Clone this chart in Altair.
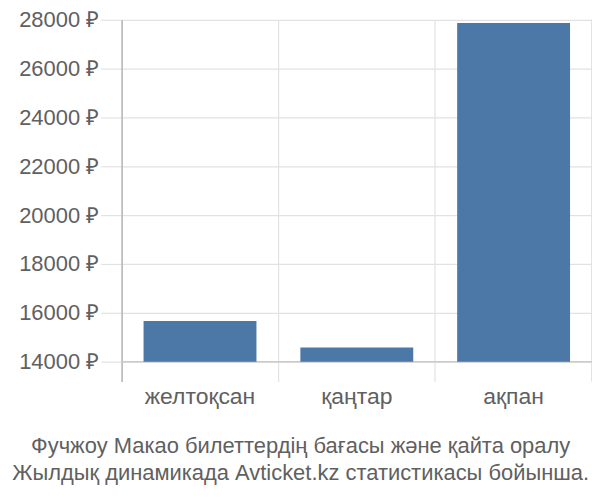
import altair as alt
import pandas as pd

categories = ["желтоқсан", "қаңтар", "ақпан"]
prices = [15660, 14575, 27870]
y_ticks = [14000, 16000, 18000, 20000, 22000, 24000, 26000, 28000]
title_lines = [
    "Фучжоу Макао билеттердің бағасы және қайта оралу",
    "Жылдық динамикада Avticket.kz статистикасы бойынша.",
]

df = pd.DataFrame({"month": categories, "price": prices})

FONT = "Liberation Sans"
TXT = "#606060"
GRID = "#e2e2e2"
W, H = 472, 363

x_enc = alt.X(
    "month:N",
    sort=categories,
    scale=alt.Scale(paddingInner=0, paddingOuter=0),
    axis=alt.Axis(
        title=None,
        grid=True,
        bandPosition=0,
        gridColor=GRID,
        gridWidth=1.2,
        ticks=False,
        domain=False,
        labelAngle=0,
        labelFont=FONT,
        labelFontSize=23,
        labelColor=TXT,
        labelPadding=4,
    ),
)

y_scale = alt.Scale(domain=[13184, 28000], nice=False, zero=False)

bars = alt.Chart(df).mark_bar(color="#4c78a8", width=alt.RelativeBandSize(0.72)).encode(
    x=x_enc,
    y=alt.Y(
        "price:Q",
        scale=y_scale,
        axis=alt.Axis(
            title=None,
            values=y_ticks,
            labelExpr="datum.value + ' ₽'",
            grid=True,
            gridColor=GRID,
            gridWidth=1.2,
            tickColor=GRID,
            tickSize=21,
            tickWidth=1.2,
            domainColor="#aaaaaa",
            domainWidth=1.2,
            labelFont=FONT,
            labelFontSize=22,
            labelColor=TXT,
            labelPadding=2,
        ),
    ),
    y2=alt.datum(14000),
)

right_rule = alt.Chart(df).mark_rule(color=GRID, strokeWidth=1.2).encode(
    x=alt.value(W), y=alt.value(0), y2=alt.value(H)
)

base_rule = alt.Chart(df).mark_rule(color="#cccccc", strokeWidth=1.2).encode(
    x=alt.value(0), x2=alt.value(W), y=alt.datum(14000)
)

chart = (
    alt.layer(right_rule, base_rule, bars)
    .properties(
        width=W,
        height=H,
        autosize=alt.AutoSizeParams(type="none"),
        padding={"left": 114, "top": 11, "right": 0, "bottom": 110},
        title=alt.TitleParams(
            text=title_lines,
            orient="bottom",
            anchor="middle",
            frame="bounds",
            font=FONT,
            fontSize=22,
            fontWeight="normal",
            color=TXT,
            lineHeight=27,
            offset=28,
            dx=-5,
        ),
    )
    .configure_view(stroke=None)
)

chart.save("out.html", embed_options={"renderer": "svg", "actions": False})
